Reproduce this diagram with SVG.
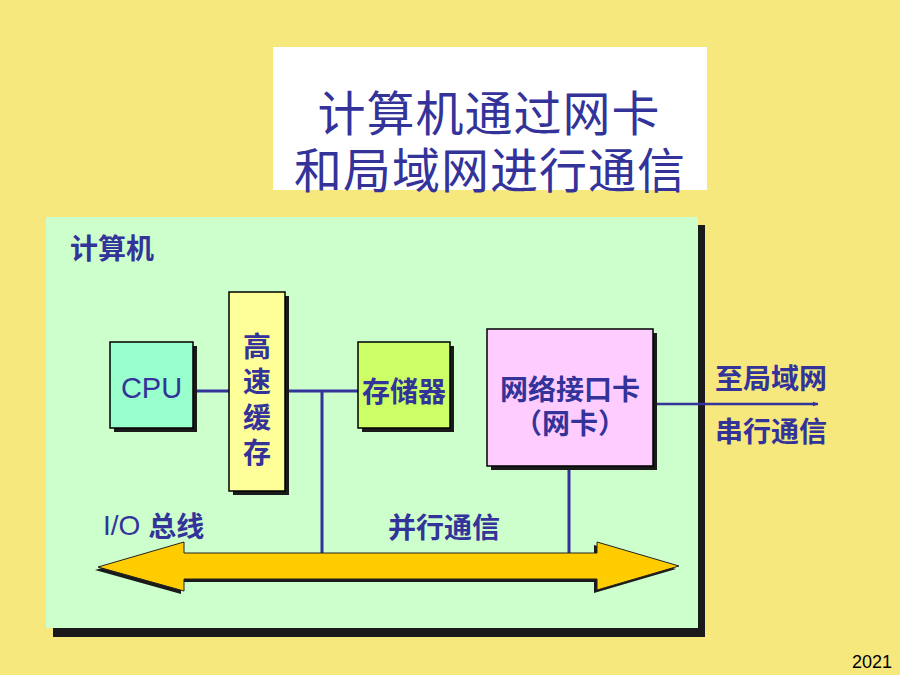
<svg xmlns="http://www.w3.org/2000/svg" width="900" height="675" viewBox="0 0 900 675">
<defs>
<style>
.cjk{font-family:"Noto Sans CJK SC","Liberation Sans",sans-serif;fill:#333399;}
.b{font-weight:bold;font-size:28px;}
.lat{font-family:"Liberation Sans","Noto Sans CJK SC",sans-serif;fill:#333399;}
.wire{stroke:#333399;stroke-width:3;fill:none;}
.sh{fill:#1a1a1a;}
.box{stroke:#000;stroke-width:1.5;}
</style>
<marker id="ah" viewBox="0 0 10 10" refX="9" refY="5" markerWidth="6" markerHeight="6" orient="auto" markerUnits="userSpaceOnUse">
<path d="M0,1 L10,5 L0,9 z" fill="#333399"/>
</marker>
</defs>
<rect x="0" y="0" width="900" height="675" fill="#F6E87C"/>

<g id="title">
<rect x="273" y="47" width="434" height="143" fill="#FFFFFF"/>
<text class="cjk" x="489" y="110" font-size="48" letter-spacing="1" text-anchor="middle" dominant-baseline="central">计算机通过网卡</text>
<text class="cjk" x="490" y="167" font-size="48" letter-spacing="1" text-anchor="middle" dominant-baseline="central">和局域网进行通信</text>
</g>

<g id="computer">
<rect class="sh" x="53" y="225" width="652" height="412"/>
<rect x="46" y="217" width="652" height="411" fill="#CCFFCC"/>
<text class="cjk b" x="70" y="247" dominant-baseline="central">计算机</text>
</g>

<g id="connectors">
<line class="wire" x1="193" y1="391" x2="229" y2="391"/>
<line class="wire" x1="285" y1="391" x2="358" y2="391"/>
<line class="wire" x1="322" y1="391" x2="322" y2="553"/>
<line class="wire" x1="569" y1="466" x2="569" y2="553"/>
<line stroke="#333399" stroke-width="2.5" x1="653" y1="404" x2="818" y2="404" marker-end="url(#ah)"/>
</g>

<g id="cpu">
<rect class="sh" x="114" y="346" width="83" height="86"/>
<rect class="box" x="110" y="342" width="83" height="86" fill="#99FFCC"/>
<text class="lat" x="151.5" y="388" font-size="29" text-anchor="middle" dominant-baseline="central">CPU</text>
</g>

<g id="cache">
<rect class="sh" x="233" y="296" width="56" height="199"/>
<rect class="box" x="229" y="292" width="56" height="199" fill="#FFFF99"/>
<text class="cjk b" x="257" y="345" text-anchor="middle" dominant-baseline="central">高</text>
<text class="cjk b" x="257" y="380" text-anchor="middle" dominant-baseline="central">速</text>
<text class="cjk b" x="257" y="416" text-anchor="middle" dominant-baseline="central">缓</text>
<text class="cjk b" x="257" y="451" text-anchor="middle" dominant-baseline="central">存</text>
</g>

<g id="memory">
<rect class="sh" x="362" y="346" width="92" height="86"/>
<rect class="box" x="358" y="342" width="92" height="86" fill="#CCFF66"/>
<text class="cjk b" x="404" y="390" text-anchor="middle" dominant-baseline="central">存储器</text>
</g>

<g id="nic">
<rect class="sh" x="491" y="333" width="166" height="137"/>
<rect class="box" x="487" y="329" width="166" height="137" fill="#FFCCFF"/>
<text class="cjk b" x="570" y="388" text-anchor="middle" dominant-baseline="central">网络接口卡</text>
<text class="cjk b" x="570" y="422" text-anchor="middle" dominant-baseline="central">（网卡）</text>
</g>

<g id="lan-label">
<text class="cjk b" x="771" y="377" text-anchor="middle" dominant-baseline="central">至局域网</text>
<text class="cjk b" x="771" y="430" text-anchor="middle" dominant-baseline="central">串行通信</text>
</g>

<g id="bus">
<polygon class="sh" transform="translate(-3,3)" points="98,567 184,542 184,553 597,553 597,542 679,566 597,590 597,579 184,579 184,591"/>
<polygon points="98,567 184,542 184,553 597,553 597,542 679,566 597,590 597,579 184,579 184,591" fill="#FFCC00" stroke="#222" stroke-width="1"/>
<text x="103" y="525" dominant-baseline="central"><tspan class="lat" font-size="28">I/O </tspan><tspan class="cjk b">总线</tspan></text>
<text class="cjk b" x="444" y="526" text-anchor="middle" dominant-baseline="central">并行通信</text>
</g>

<text x="892" y="668" font-family="Liberation Sans, sans-serif" font-size="18" text-anchor="end" fill="#000">2021</text>
</svg>
